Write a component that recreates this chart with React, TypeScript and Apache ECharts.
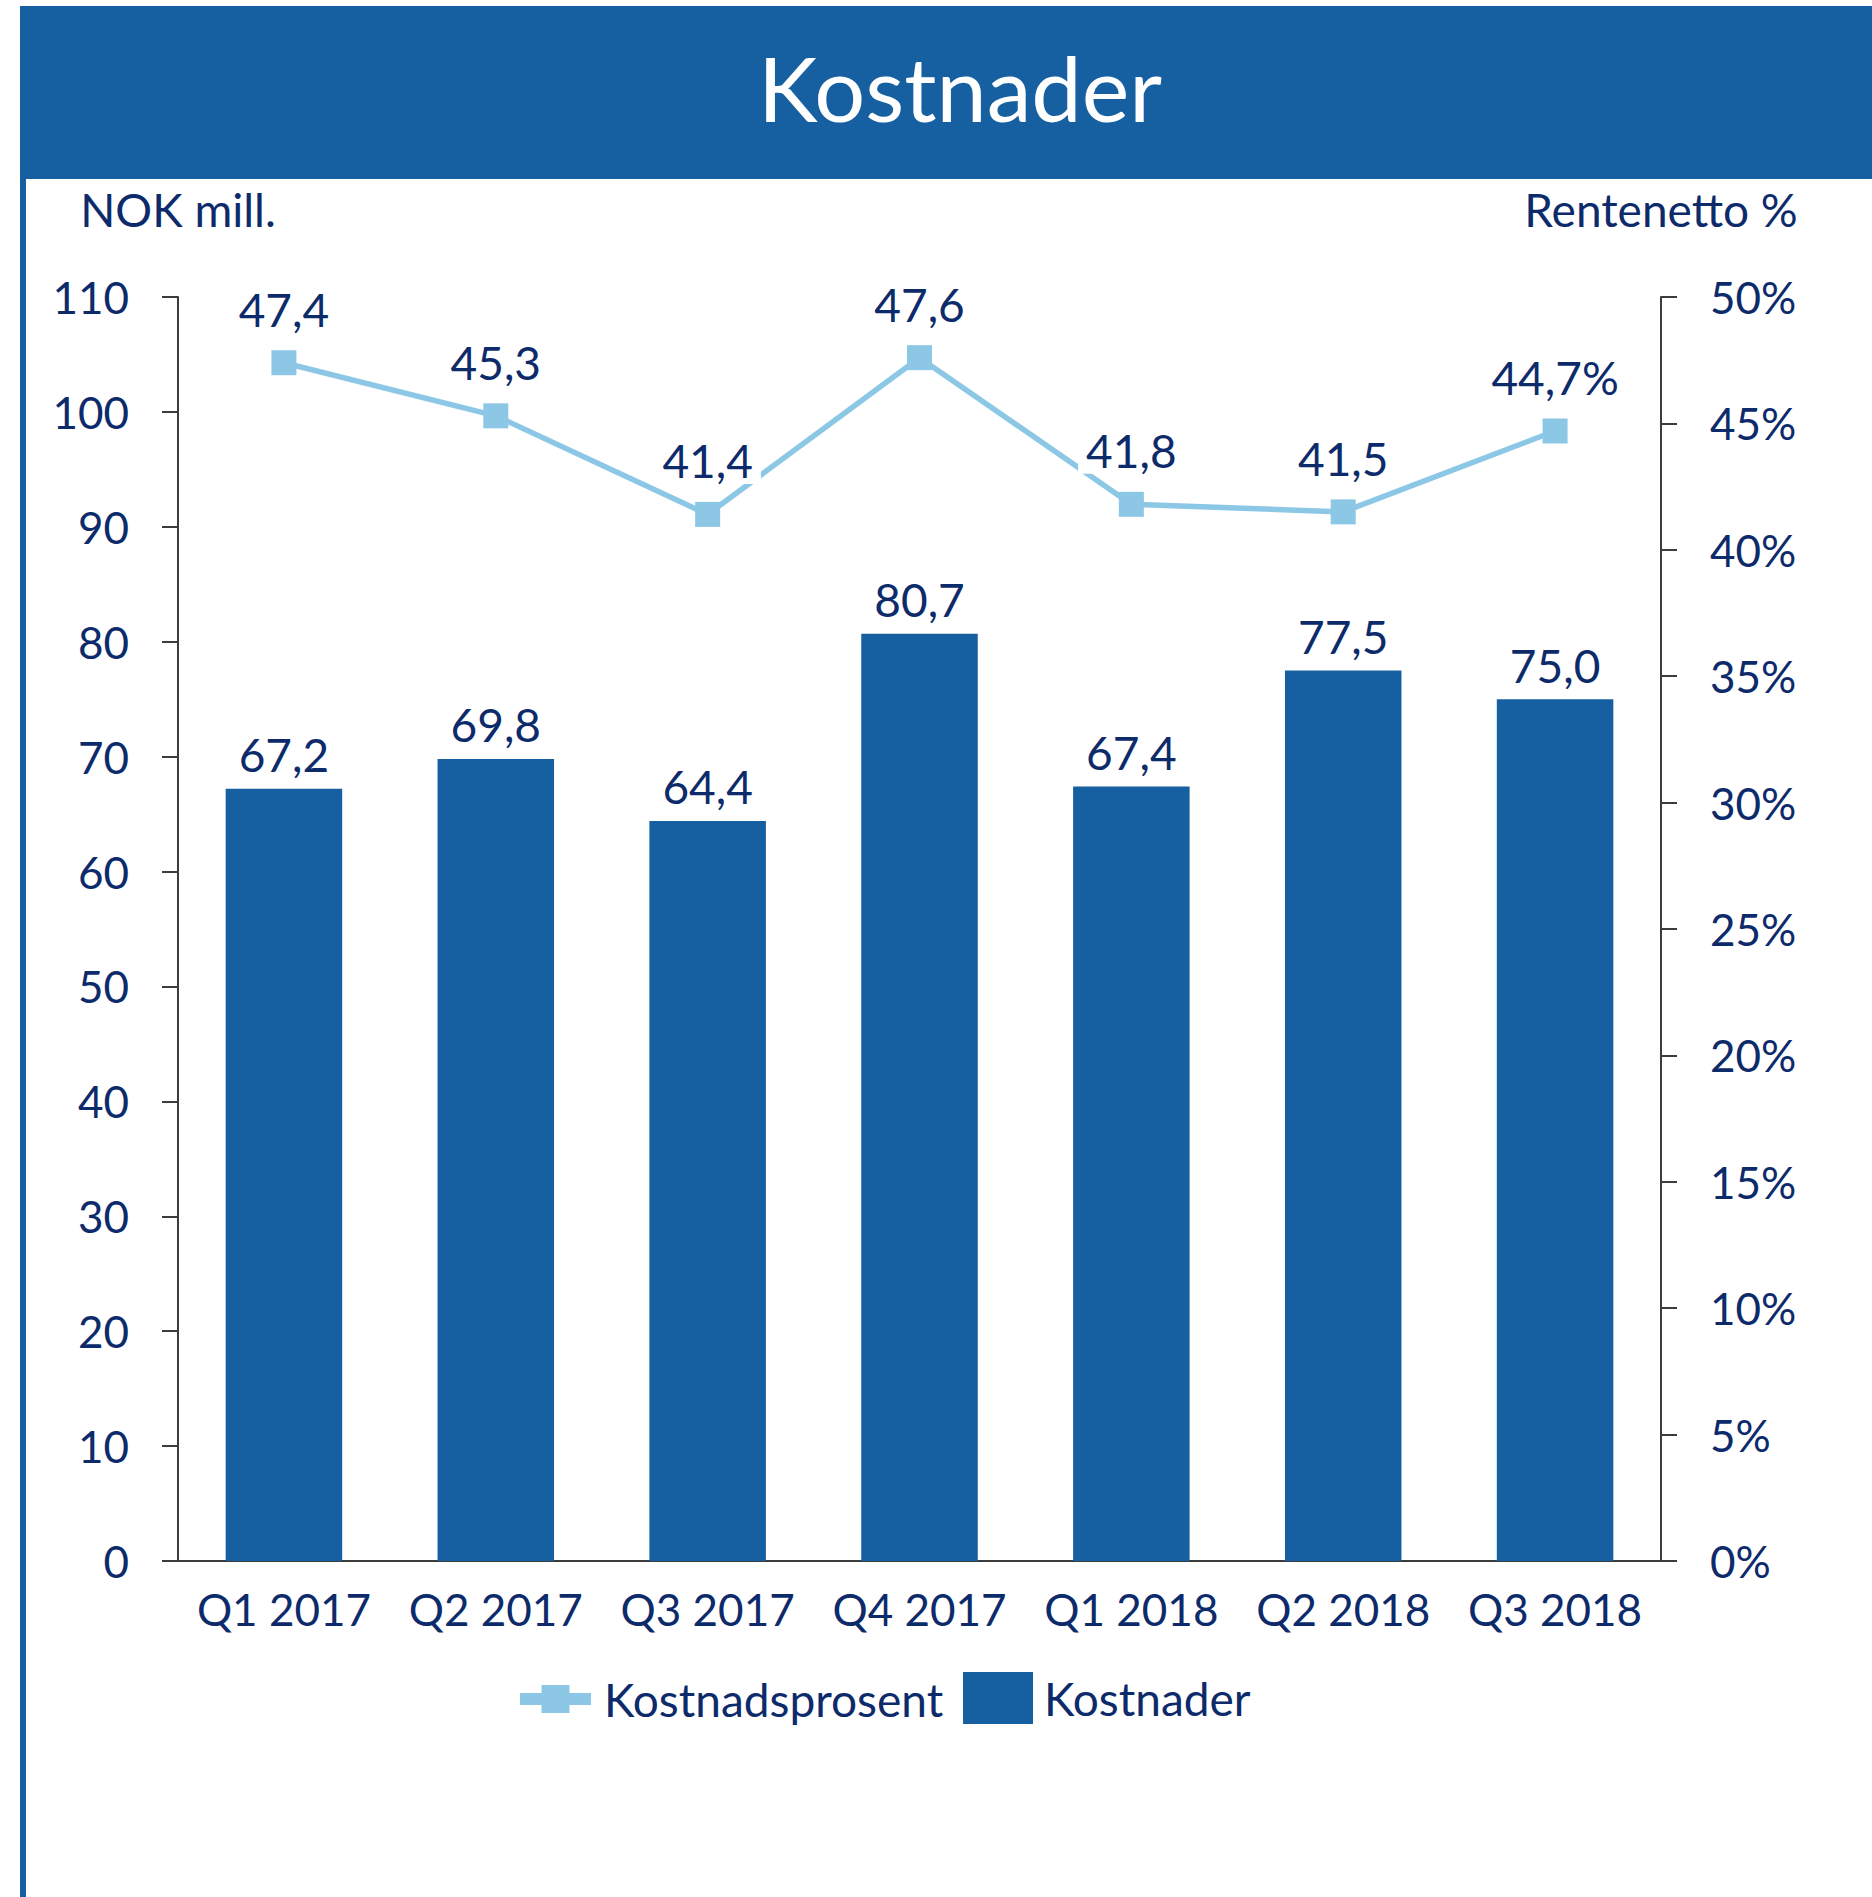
import React, { useEffect, useRef } from "react";
import * as echarts from "echarts";

const categories = ["Q1 2017", "Q2 2017", "Q3 2017", "Q4 2017", "Q1 2018", "Q2 2018", "Q3 2018"];
const kostnader = [67.2, 69.8, 64.4, 80.7, 67.4, 77.5, 75.0];
const kostnadsprosent = [47.4, 45.3, 41.4, 47.6, 41.8, 41.5, 44.7];

const BLUE = "#1660A1";
const LIGHT = "#8CC8E6";
const NAVY = "#0D2B6B";
const AXIS = "#3c3c3c";
const FONT = "Lato";
const FS = 46;
const TFS = 44;

const fmt = (v: number) => v.toFixed(1).replace(".", ",");

export default function App() {
  const ref = useRef<HTMLDivElement>(null);
  useEffect(() => {
    if (!ref.current) return;
    const chart = echarts.init(ref.current, null, { renderer: "svg" });
    const option: any = {
      animation: false,
      backgroundColor: "#ffffff",
      textStyle: { fontFamily: FONT },
      graphic: [
        { type: "rect", shape: { x: 20, y: 6, width: 1852, height: 173 }, style: { fill: BLUE }, z: 0 },
        { type: "rect", shape: { x: 20, y: 6, width: 6, height: 1891 }, style: { fill: BLUE }, z: 0 },
        {
          type: "text",
          x: 960,
          y: 87,
          style: {
            text: "Kostnader",
            fill: "#ffffff",
            font: `90px ${FONT}`,
            textAlign: "center",
            textVerticalAlign: "middle",
          },
        },
      ],
      grid: { left: 178, right: 211, top: 297, height: 1264, containLabel: false },
      legend: [
        {
          data: ["Kostnadsprosent"],
          left: 509,
          top: 1671,
          itemWidth: 71,
          itemHeight: 35,
          lineStyle: { width: 12 },
          textStyle: { fontFamily: FONT, fontSize: FS, color: NAVY, padding: [0, 0, 0, 8] },
        },
        {
          data: [{ name: "Kostnader", icon: "rect" }],
          left: 958,
          top: 1667,
          itemWidth: 70,
          itemHeight: 52,
          textStyle: { fontFamily: FONT, fontSize: FS, color: NAVY, padding: [0, 0, 0, 6] },
        },
      ],
      xAxis: {
        type: "category",
        data: categories,
        axisLine: { lineStyle: { color: AXIS, width: 2 } },
        axisTick: { show: false },
        axisLabel: { fontFamily: FONT, fontSize: TFS, color: NAVY, margin: 26, interval: 0 },
      },
      yAxis: [
        {
          type: "value",
          min: 0,
          max: 110,
          interval: 10,
          position: "left",
          name: "NOK mill.",
          nameLocation: "end",
          nameGap: 88,
          nameTextStyle: { fontFamily: FONT, fontSize: FS, color: NAVY, align: "center", verticalAlign: "middle" },
          axisLine: { show: true, lineStyle: { color: AXIS, width: 2 } },
          axisTick: { show: true, length: 16, lineStyle: { color: AXIS, width: 2 } },
          axisLabel: { fontFamily: FONT, fontSize: TFS, color: NAVY, margin: 49 },
          splitLine: { show: false },
        },
        {
          type: "value",
          min: 0,
          max: 50,
          interval: 5,
          position: "right",
          name: "Rentenetto %",
          nameLocation: "end",
          nameGap: 88,
          nameTextStyle: { fontFamily: FONT, fontSize: FS, color: NAVY, align: "center", verticalAlign: "middle" },
          axisLine: { show: true, lineStyle: { color: AXIS, width: 2 } },
          axisTick: { show: true, length: 16, lineStyle: { color: AXIS, width: 2 } },
          axisLabel: { fontFamily: FONT, fontSize: TFS, color: NAVY, margin: 49, formatter: "{value}%" },
          splitLine: { show: false },
        },
      ],
      series: [
        {
          name: "Kostnader",
          type: "bar",
          data: kostnader,
          yAxisIndex: 0,
          barWidth: "55%",
          itemStyle: { color: BLUE },
          label: {
            show: true,
            position: "top",
            distance: 11,
            fontFamily: FONT,
            fontSize: FS,
            color: NAVY,
            formatter: (p: any) => fmt(p.value),
          },
          z: 2,
        },
        {
          name: "Kostnadsprosent",
          type: "line",
          data: kostnadsprosent,
          yAxisIndex: 1,
          symbol: "rect",
          symbolSize: 25,
          lineStyle: { color: LIGHT, width: 5.5 },
          itemStyle: { color: LIGHT },
          label: {
            show: true,
            position: "top",
            distance: 18,
            fontFamily: FONT,
            fontSize: FS,
            color: NAVY,
            backgroundColor: "#ffffff",
            padding: [0, 8],
            formatter: (p: any) =>
              fmt(p.value) + (p.dataIndex === kostnadsprosent.length - 1 ? "%" : ""),
          },
          z: 3,
        },
      ],
    };
    chart.setOption(option);
    return () => chart.dispose();
  }, []);
  return (
    <div
      ref={ref}
      style={{ position: "fixed", left: 0, top: 0, width: 1872, height: 1897, background: "#fff" }}
    />
  );
}
